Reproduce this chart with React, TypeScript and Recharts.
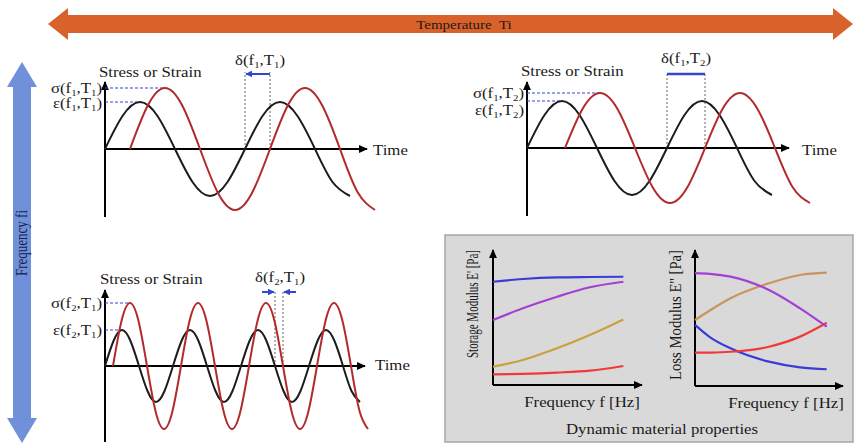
import { LineChart, Line, XAxis, YAxis, ReferenceLine } from 'recharts'

const W = 855
const H = 446

// top left: f1, T1  (time in eighth-period steps, amplitude in chart units)
const tStrainF1T1 = [0, 17.5, 35, 52.5, 70, 87.5, 105, 122.5, 140, 157.5, 175, 192.5, 210, 227.5, 245]
const strainF1T1 = [0, 33, 47, 33, 0, -33, -47, -33, 0, 33, 47, 33, 0, -33, -47]
const tStressF1T1 = [25, 42.5, 60, 77.5, 95, 112.5, 130, 147.5, 165, 182.5, 200, 217.5, 235, 252.5, 270]
const stressF1T1 = [0, 43, 61, 43, 0, -43, -61, -43, 0, 43, 61, 43, 0, -43, -61]

// top right: f1, T2
const tStrainF1T2 = [0, 17.5, 35, 52.5, 70, 87.5, 105, 122.5, 140, 157.5, 175, 192.5, 210, 227.5, 245]
const strainF1T2 = [0, 33, 47, 33, 0, -33, -47, -33, 0, 33, 47, 33, 0, -33, -47]
const tStressF1T2 = [38, 55.5, 73, 90.5, 108, 125.5, 143, 160.5, 178, 195.5, 213, 230.5, 248, 265.5, 283]
const stressF1T2 = [0, 39, 55, 39, 0, -39, -55, -39, 0, 39, 55, 39, 0, -39, -55]

// bottom left: f2, T1
const tStrainF2T1 = [
  0, 8.5, 17, 25.5, 34, 42.5, 51, 59.5, 68, 76.5, 85, 93.5, 102, 110.5, 119, 127.5,
  136, 144.5, 153, 161.5, 170, 178.5, 187, 195.5, 204, 212.5, 221, 229.5, 238, 246.5, 255,
]
const strainF2T1 = [
  0, 25, 36, 25, 0, -25, -36, -25, 0, 25, 36, 25, 0, -25, -36, -25,
  0, 25, 36, 25, 0, -25, -36, -25, 0, 25, 36, 25, 0, -25, -36,
]
const tStressF2T1 = [
  8, 16.5, 25, 33.5, 42, 50.5, 59, 67.5, 76, 84.5, 93, 101.5, 110, 118.5, 127, 135.5,
  144, 152.5, 161, 169.5, 178, 186.5, 195, 203.5, 212, 220.5, 229, 237.5, 246, 254.5, 263,
]
const stressF2T1 = [
  0, 45, 63, 45, 0, -45, -63, -45, 0, 45, 63, 45, 0, -45, -63, -45,
  0, 45, 63, 45, 0, -45, -63, -45, 0, 45, 63, 45, 0, -45, -63,
]

// storage modulus E' vs frequency
const freqStorage = [0, 2, 4.3, 6.5, 8.75]
const storageBlue = [7.65, 7.85, 7.97, 8.0, 8.02]
const storagePurple = [4.81, 5.68, 6.54, 7.24, 7.65]
const storageGold = [1.36, 1.85, 2.72, 3.7, 4.85]
const storageRed = [0.79, 0.83, 0.92, 1.06, 1.41]

// loss modulus E'' vs frequency
const freqLoss = [0, 1, 2.4, 5, 7.1, 8.9]
const lossPurple = [8.3, 8.25, 8.04, 7.06, 5.71, 4.36]
const lossTan = [4.85, 5.55, 6.45, 7.55, 8.16, 8.33]
const lossBlue = [4.49, 3.6, 2.77, 1.79, 1.37, 1.23]
const lossRed = [2.45, 2.46, 2.52, 2.89, 3.63, 4.65]

const pts = (t: number[], v: number[]) => t.map((x, i) => ({ t: x, v: v[i] }))

const SERIF = "'Liberation Serif', 'Times New Roman', serif"
const WAVE_BLACK = '#1c1c1c'
const WAVE_RED = '#b22a2c'
const GUIDE_BLUE = '#3446cc'

function Panel({ x0, x1, y0, y1, xDomain, yDomain, children }: any) {
  return (
    <div style={{ position: 'absolute', left: 0, top: 0 }}>
      <LineChart width={W} height={H} margin={{ left: x0, right: W - x1, top: y0, bottom: H - y1 }}>
        <XAxis type="number" dataKey="t" domain={xDomain} hide />
        <YAxis type="number" dataKey="v" domain={yDomain} hide />
        {children}
      </LineChart>
    </div>
  )
}

function Wave({ data, color }: any) {
  return (
    <Line
      data={data}
      dataKey="v"
      type="natural"
      stroke={color}
      strokeWidth={2}
      dot={false}
      isAnimationActive={false}
    />
  )
}

function Curve({ data, color }: any) {
  return (
    <Line
      data={data}
      dataKey="v"
      type="monotone"
      stroke={color}
      strokeWidth={2.2}
      dot={false}
      isAnimationActive={false}
    />
  )
}

function Seg({ a, b, stroke = '#000', width = 2, dash, marker }: any) {
  return (
    <ReferenceLine
      segment={[a, b]}
      stroke={stroke}
      strokeWidth={width}
      strokeDasharray={dash}
      markerEnd={marker ? `url(#${marker})` : undefined}
      ifOverflow="visible"
    />
  )
}

function Txt({ x, y, anchor = 'start', size = 14, sx = 1.2, fill = '#1a1a1a', children }: any) {
  return (
    <g transform={`translate(${x} ${y}) scale(${sx} 1)`}>
      <text x={0} y={0} textAnchor={anchor} fontSize={size} fontFamily={SERIF} fill={fill}>
        {children}
      </text>
    </g>
  )
}

// vertical text reading bottom to top, glyphs widened across like the rest of the figure
function VTxt({ x, y, anchor = 'end', size = 14, len, fill = '#1a1a1a', children }: any) {
  return (
    <g transform={`translate(${x} ${y}) scale(1.2 1) rotate(-90)`}>
      <text x={0} y={0} textAnchor={anchor} fontSize={size} fontFamily={SERIF} fill={fill}
        textLength={len} lengthAdjust="spacingAndGlyphs">
        {children}
      </text>
    </g>
  )
}

function Sym({ g, f, t }: any) {
  return (
    <>
      {g}(f
      <tspan fontSize={9} dy={3}>{f}</tspan>
      <tspan dy={-3}>,T</tspan>
      <tspan fontSize={9} dy={3}>{t}</tspan>
      <tspan dy={-3}>)</tspan>
    </>
  )
}

function WaveAxes({ xEnd, yMin, yMax }: any) {
  return (
    <>
      <Seg a={{ x: 0, y: 0 }} b={{ x: xEnd, y: 0 }} marker="ahK" />
      <Seg a={{ x: 0, y: yMin }} b={{ x: 0, y: yMax }} marker="ahK" />
    </>
  )
}

export default function App() {
  return (
    <div style={{ position: 'absolute', left: 0, top: 0, width: W, height: H, background: '#fff', overflow: 'hidden' }}>
      <svg width={W} height={H} style={{ position: 'absolute', left: 0, top: 0 }}>
        <defs>
          <marker id="ahK" viewBox="0 0 10 10" refX="9" refY="5" markerWidth="9" markerHeight="8"
            markerUnits="userSpaceOnUse" orient="auto" preserveAspectRatio="none">
            <path d="M0,0L10,5L0,10z" fill="#000" />
          </marker>
          <marker id="ahB" viewBox="0 0 10 10" refX="9" refY="5" markerWidth="7" markerHeight="7"
            markerUnits="userSpaceOnUse" orient="auto" preserveAspectRatio="none">
            <path d="M0,0L10,5L0,10z" fill={GUIDE_BLUE} />
          </marker>
        </defs>
        <rect x={445} y={235} width={408} height={207} fill="#d9d9d9" stroke="#a6a6a6" strokeWidth={1.5} />
        <polygon
          points="48,24 68,8 68,15 833,15 833,8 853,24 833,40 833,33 68,33 68,40"
          fill="#d9622b"
        />
        <polygon
          points="22,62 37,87 31,87 31,418 37,418 22,443 7,418 13,418 13,87 7,87"
          fill="#7090da"
        />
      </svg>

      {/* f1, T1 */}
      <Panel x0={105} x1={380} y0={55} y1={217} xDomain={[0, 275]} yDomain={[-68, 94]}>
        <WaveAxes xEnd={262} yMin={-68} yMax={67} />
        <Seg a={{ x: 0, y: 61 }} b={{ x: 60, y: 61 }} stroke={GUIDE_BLUE} width={1.2} dash="3 2" />
        <Seg a={{ x: 0, y: 47 }} b={{ x: 35, y: 47 }} stroke={GUIDE_BLUE} width={1.2} dash="3 2" />
        <Seg a={{ x: 140, y: 0 }} b={{ x: 140, y: 77 }} stroke="#666" width={1} dash="2 2" />
        <Seg a={{ x: 165, y: 0 }} b={{ x: 165, y: 77 }} stroke="#666" width={1} dash="2 2" />
        <Seg a={{ x: 165, y: 75 }} b={{ x: 141, y: 75 }} stroke={GUIDE_BLUE} width={2} marker="ahB" />
        <Wave data={pts(tStrainF1T1, strainF1T1)} color={WAVE_BLACK} />
        <Wave data={pts(tStressF1T1, stressF1T1)} color={WAVE_RED} />
      </Panel>

      {/* f1, T2 */}
      <Panel x0={527} x1={812} y0={55} y1={216} xDomain={[0, 285]} yDomain={[-68, 93]}>
        <WaveAxes xEnd={262} yMin={-68} yMax={66} />
        <Seg a={{ x: 0, y: 55 }} b={{ x: 73, y: 55 }} stroke={GUIDE_BLUE} width={1.2} dash="3 2" />
        <Seg a={{ x: 0, y: 47 }} b={{ x: 35, y: 47 }} stroke={GUIDE_BLUE} width={1.2} dash="3 2" />
        <Seg a={{ x: 140, y: 0 }} b={{ x: 140, y: 76 }} stroke="#666" width={1} dash="2 2" />
        <Seg a={{ x: 178, y: 0 }} b={{ x: 178, y: 76 }} stroke="#666" width={1} dash="2 2" />
        <Seg a={{ x: 140, y: 74 }} b={{ x: 178, y: 74 }} stroke={GUIDE_BLUE} width={2.5} />
        <Wave data={pts(tStrainF1T2, strainF1T2)} color={WAVE_BLACK} />
        <Wave data={pts(tStressF1T2, stressF1T2)} color={WAVE_RED} />
      </Panel>

      {/* f2, T1 */}
      <Panel x0={105} x1={370} y0={270} y1={442} xDomain={[0, 265]} yDomain={[-76, 96]}>
        <WaveAxes xEnd={260} yMin={-76} yMax={76} />
        <Seg a={{ x: 0, y: 63 }} b={{ x: 25, y: 63 }} stroke={GUIDE_BLUE} width={1.2} dash="3 2" />
        <Seg a={{ x: 0, y: 36 }} b={{ x: 17, y: 36 }} stroke={GUIDE_BLUE} width={1.2} dash="3 2" />
        <Seg a={{ x: 170, y: 0 }} b={{ x: 170, y: 76 }} stroke="#666" width={1} dash="2 2" />
        <Seg a={{ x: 178, y: 0 }} b={{ x: 178, y: 76 }} stroke="#666" width={1} dash="2 2" />
        <Seg a={{ x: 157, y: 74 }} b={{ x: 169, y: 74 }} stroke={GUIDE_BLUE} width={2} marker="ahB" />
        <Seg a={{ x: 191, y: 74 }} b={{ x: 179, y: 74 }} stroke={GUIDE_BLUE} width={2} marker="ahB" />
        <Wave data={pts(tStrainF2T1, strainF2T1)} color={WAVE_BLACK} />
        <Wave data={pts(tStressF2T1, stressF2T1)} color={WAVE_RED} />
      </Panel>

      {/* storage modulus */}
      <Panel x0={493} x1={642} y0={250} y1={385} xDomain={[0, 10]} yDomain={[0, 10]}>
        <Seg a={{ x: 0, y: 0 }} b={{ x: 10, y: 0 }} marker="ahK" />
        <Seg a={{ x: 0, y: 0 }} b={{ x: 0, y: 10 }} marker="ahK" />
        <Curve data={pts(freqStorage, storageBlue)} color="#3b3bd8" />
        <Curve data={pts(freqStorage, storagePurple)} color="#a33fd3" />
        <Curve data={pts(freqStorage, storageGold)} color="#c9a23c" />
        <Curve data={pts(freqStorage, storageRed)} color="#f03a3a" />
      </Panel>

      {/* loss modulus */}
      <Panel x0={695} x1={843} y0={250} y1={386} xDomain={[0, 10]} yDomain={[0, 10]}>
        <Seg a={{ x: 0, y: 0 }} b={{ x: 10, y: 0 }} marker="ahK" />
        <Seg a={{ x: 0, y: 0 }} b={{ x: 0, y: 10 }} marker="ahK" />
        <Curve data={pts(freqLoss, lossTan)} color="#c9955c" />
        <Curve data={pts(freqLoss, lossBlue)} color="#3b3bd8" />
        <Curve data={pts(freqLoss, lossRed)} color="#f03a3a" />
        <Curve data={pts(freqLoss, lossPurple)} color="#a33fd3" />
      </Panel>

      <svg width={W} height={H} style={{ position: 'absolute', left: 0, top: 0, pointerEvents: 'none' }}>
        <Txt x={464} y={29} anchor="middle" size={13} sx={1.15}>Temperature&#160;&#160;Ti</Txt>
        <VTxt x={27} y={243} anchor="middle" size={14} len={66} fill="#14204a">Frequency fi</VTxt>

        <Txt x={99} y={77}>Stress or Strain</Txt>
        <Txt x={102} y={93} anchor="end"><Sym g="σ" f="1" t="1" /></Txt>
        <Txt x={102} y={108} anchor="end"><Sym g="ε" f="1" t="1" /></Txt>
        <Txt x={260} y={65} anchor="middle"><Sym g="δ" f="1" t="1" /></Txt>
        <Txt x={373} y={155}>Time</Txt>

        <Txt x={521} y={76}>Stress or Strain</Txt>
        <Txt x={524} y={98} anchor="end"><Sym g="σ" f="1" t="2" /></Txt>
        <Txt x={524} y={115} anchor="end"><Sym g="ε" f="1" t="2" /></Txt>
        <Txt x={686} y={63} anchor="middle"><Sym g="δ" f="1" t="2" /></Txt>
        <Txt x={802} y={155}>Time</Txt>

        <Txt x={100} y={284}>Stress or Strain</Txt>
        <Txt x={102} y={308} anchor="end"><Sym g="σ" f="2" t="1" /></Txt>
        <Txt x={102} y={335} anchor="end"><Sym g="ε" f="2" t="1" /></Txt>
        <Txt x={280} y={282} anchor="middle"><Sym g="δ" f="2" t="1" /></Txt>
        <Txt x={375} y={370}>Time</Txt>

        <VTxt x={478} y={250} len={108}>Storage Modulus E' [Pa]</VTxt>
        <VTxt x={681} y={250} len={130}>Loss Modulus E'' [Pa]</VTxt>
        <Txt x={582} y={407} anchor="middle">Frequency f [Hz]</Txt>
        <Txt x={786} y={408} anchor="middle">Frequency f [Hz]</Txt>
        <Txt x={662} y={434} anchor="middle">Dynamic material properties</Txt>
      </svg>
    </div>
  )
}
